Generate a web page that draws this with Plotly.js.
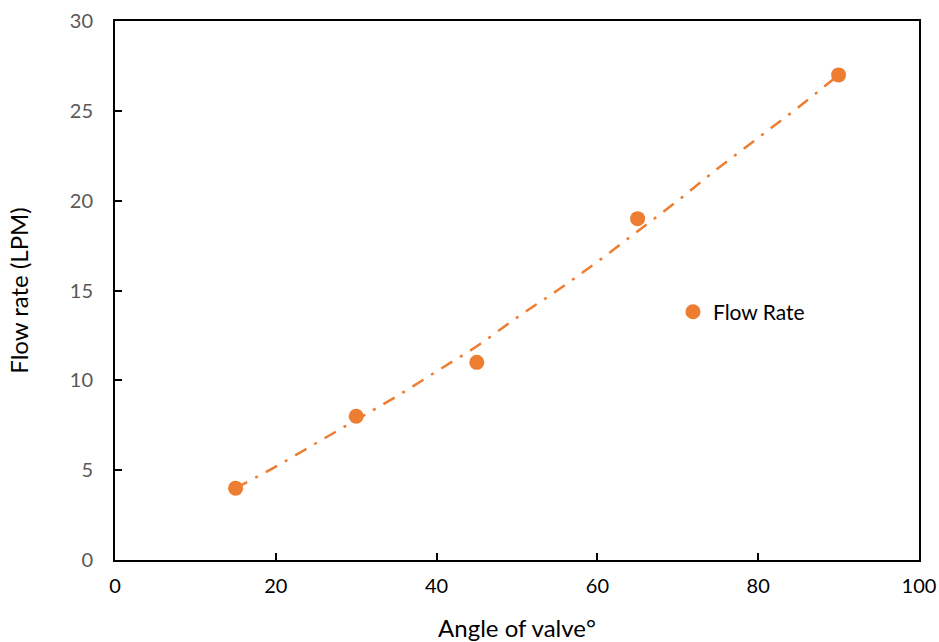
<!DOCTYPE html>
<html>
<head>
<meta charset="utf-8">
<script src="https://cdn.plot.ly/plotly-3.0.1.min.js"></script>
<style>html,body{margin:0;padding:0;background:#fff;}#chart{width:939px;height:642px;}</style>
</head>
<body>
<div id="chart"></div>
<script>
// Measured data
const angle = [15, 30, 45, 65, 90];
const flowRate = [4, 8, 11, 19, 27];
// Trendline
const trendX = [15, 20, 25, 30, 35, 40, 45, 50, 55, 60, 65, 70, 75, 80, 85, 90];
const trendY = [4.0, 5.2, 6.5, 7.8, 9.1, 10.5, 11.9, 13.5, 15.0, 16.6, 18.3, 20.0, 21.8, 23.5, 25.2, 27.0];
const xTicks = [0, 20, 40, 60, 80, 100];
const yTicks = [0, 5, 10, 15, 20, 25, 30];

const orange = '#ED7D31';
const fontFam = 'Lato, "Open Sans", sans-serif';

const traces = [
  {
    x: trendX, y: trendY, mode: 'lines', type: 'scatter',
    line: {color: orange, width: 2.5, dash: '13px,9px,3px,9px', shape: 'spline'},
    showlegend: false, hoverinfo: 'skip'
  },
  {
    x: angle, y: flowRate, mode: 'markers', type: 'scatter', name: 'Flow Rate',
    marker: {color: orange, size: 15}
  }
];

const layout = {
  width: 939, height: 642,
  margin: {l: 115, r: 20, t: 21, b: 82},
  paper_bgcolor: '#fff', plot_bgcolor: '#fff',
  font: {family: fontFam, color: '#000'},
  showlegend: true,
  legend: {x: 0.694, y: 0.46, xanchor: 'left', yanchor: 'middle', bgcolor: 'rgba(0,0,0,0)',
           font: {size: 21, color: '#000', family: fontFam}, itemwidth: 30},
  xaxis: {
    range: [0, 100], tickvals: xTicks, ticktext: xTicks.map(String),
    ticks: 'inside', ticklen: 7, tickwidth: 2, tickcolor: '#000',
    showline: true, linecolor: '#000', linewidth: 2, mirror: true,
    showgrid: false, zeroline: false,
    tickfont: {size: 20, color: '#000', family: fontFam},
    ticklabelstandoff: 7,
    title: {text: 'Angle of valve°', font: {size: 24, color: '#000', family: fontFam}, standoff: 24}
  },
  yaxis: {
    range: [0, 30], tickvals: yTicks, ticktext: yTicks.map(String),
    ticks: 'inside', ticklen: 7, tickwidth: 2, tickcolor: '#000',
    showline: true, linecolor: '#000', linewidth: 2, mirror: true,
    showgrid: false, zeroline: false,
    tickfont: {size: 20, color: '#595959', family: fontFam},
    ticklabelstandoff: 16,
    title: {text: 'Flow rate (LPM)', font: {size: 24, color: '#000', family: fontFam}, standoff: 34}
  }
};

Plotly.newPlot('chart', traces, layout, {displayModeBar: false, staticPlot: true});
</script>
</body>
</html>
